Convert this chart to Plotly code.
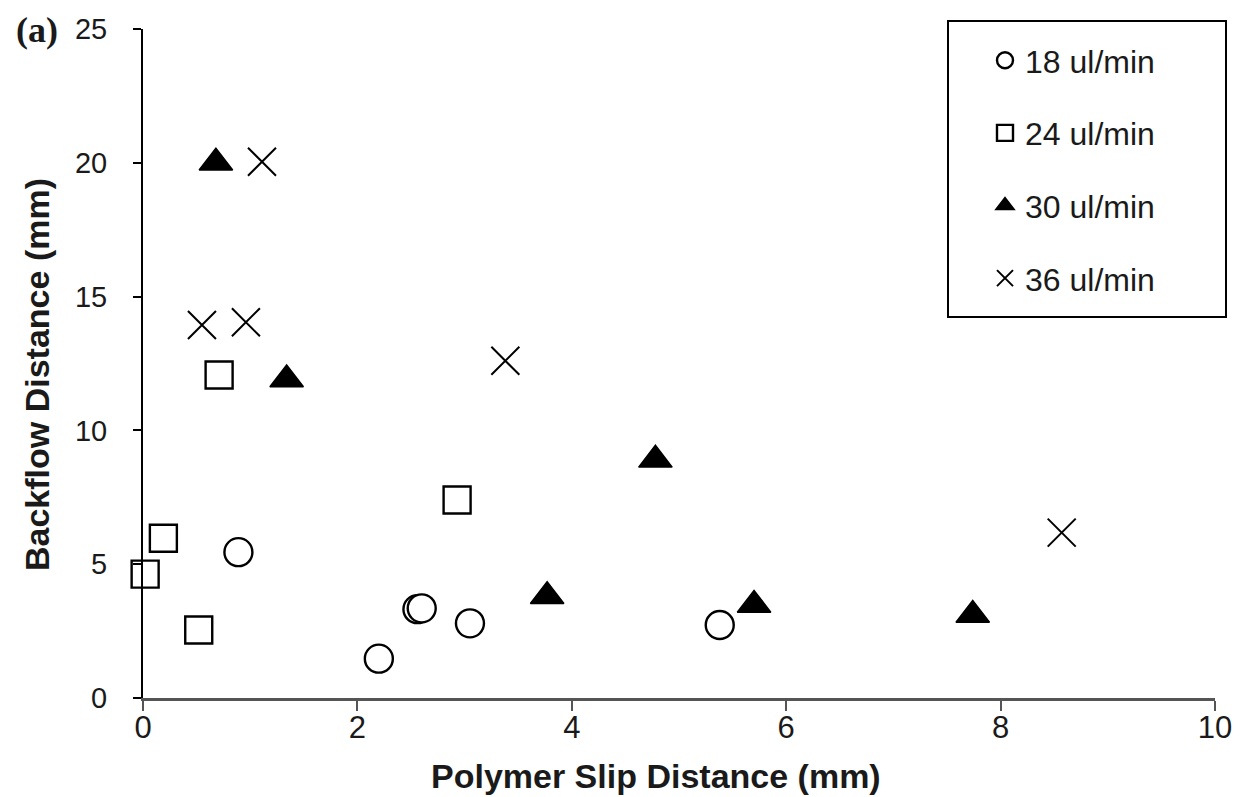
import plotly.graph_objects as go

# ---- data ----
series_names = ["18 ul/min", "24 ul/min", "30 ul/min", "36 ul/min"]

x_18 = [0.89, 2.20, 2.56, 2.60, 3.05, 5.38]
y_18 = [5.45, 1.47, 3.32, 3.35, 2.79, 2.73]

x_24 = [0.02, 0.19, 0.52, 0.71, 2.93]
y_24 = [4.63, 5.97, 2.54, 12.07, 7.40]

x_30 = [0.68, 1.34, 3.77, 4.78, 5.70, 7.74]
y_30 = [20.0, 11.9, 3.80, 8.90, 3.48, 3.10]

x_36 = [0.55, 0.96, 1.11, 3.38, 8.57]
y_36 = [13.94, 14.04, 20.04, 12.60, 6.18]

x_ticks = [0, 2, 4, 6, 8, 10]
y_ticks = [0, 5, 10, 15, 20, 25]

FONT = "Liberation Sans, Arial, sans-serif"

# plot area in pixels
L, R, T, B = 143, 1215, 29, 698
W, H = 1248, 797


def px_x(p):
    return (p - L) / (R - L)


def px_y(p):
    return (B - p) / (B - T)


fig = go.Figure()

fig.add_trace(go.Scatter(
    x=x_18, y=y_18, mode="markers", name=series_names[0], legendgroup="a",
    marker=dict(symbol="circle", size=28, color="white",
                line=dict(color="black", width=2.4)),
    cliponaxis=False))
fig.add_trace(go.Scatter(
    x=x_24, y=y_24, mode="markers", name=series_names[1], legendgroup="b",
    marker=dict(symbol="square", size=27, color="white",
                line=dict(color="black", width=2.4)),
    cliponaxis=False))
fig.add_trace(go.Scatter(
    x=x_30, y=y_30, mode="markers", name=series_names[2], legendgroup="c",
    marker=dict(symbol="triangle-up", size=29, color="black",
                line=dict(color="black", width=1.5)),
    cliponaxis=False))
fig.add_trace(go.Scatter(
    x=x_36, y=y_36, mode="markers", name=series_names[3], legendgroup="d",
    marker=dict(symbol="x-thin-open", size=28, color="black",
                line=dict(color="black", width=2)),
    cliponaxis=False))

fig.update_layout(
    width=W, height=H,
    margin=dict(l=L, r=W - R, t=T, b=H - B, pad=0),
    paper_bgcolor="white", plot_bgcolor="white",
    font=dict(family=FONT, color="#1a1a1a"),
    showlegend=True,
    legend=dict(
        x=px_x(985), y=px_y(33), xanchor="left", yanchor="top",
        font=dict(family=FONT, size=32, color="#1a1a1a"),
        bgcolor="rgba(0,0,0,0)", borderwidth=0,
        traceorder="grouped", tracegroupgap=28,
        itemwidth=30,
    ),
    xaxis=dict(
        range=[0, 10], tickvals=x_ticks, ticktext=[str(v) for v in x_ticks],
        showgrid=False, zeroline=False,
        showline=True, linecolor="#555555", linewidth=3,
        ticks="outside", ticklen=10, tickwidth=2, tickcolor="#555555",
        tickfont=dict(family=FONT, size=31, color="#1a1a1a"),
        ticklabelstandoff=-10,
    ),
    yaxis=dict(
        range=[0, 25], tickvals=y_ticks, ticktext=[str(v) for v in y_ticks],
        showgrid=False, zeroline=False,
        showline=True, linecolor="black", linewidth=2,
        ticks="outside", ticklen=8, tickwidth=2, tickcolor="black",
        tickfont=dict(family=FONT, size=29, color="#1a1a1a"),
        ticklabelstandoff=20,
    ),
    shapes=[dict(
        type="rect", xref="paper", yref="paper",
        x0=px_x(948), x1=px_x(1226), y0=px_y(317), y1=px_y(21),
        line=dict(color="black", width=2), fillcolor="rgba(0,0,0,0)",
        layer="above",
    )],
    annotations=[
        dict(text="<b>(a)</b>", xref="paper", yref="paper",
             x=px_x(37), y=px_y(30), xanchor="center", yanchor="middle",
             showarrow=False,
             font=dict(family="Liberation Serif, Times New Roman, serif",
                       size=36, color="#1a1a1a")),
        dict(text="<b>Backflow Distance (mm)</b>", xref="paper", yref="paper",
             x=px_x(37), y=px_y(375), xanchor="center", yanchor="middle",
             textangle=-90, showarrow=False,
             font=dict(family=FONT, size=34, color="#1a1a1a")),
        dict(text="<b>Polymer Slip Distance (mm)</b>", xref="paper", yref="paper",
             x=px_x(656), y=px_y(776), xanchor="center", yanchor="middle",
             showarrow=False,
             font=dict(family=FONT, size=34, color="#1a1a1a")),
    ],
)

fig.write_html("out.html", config={"displayModeBar": False},
               post_script="document.body.style.margin='0';document.body.style.overflow='hidden';")
